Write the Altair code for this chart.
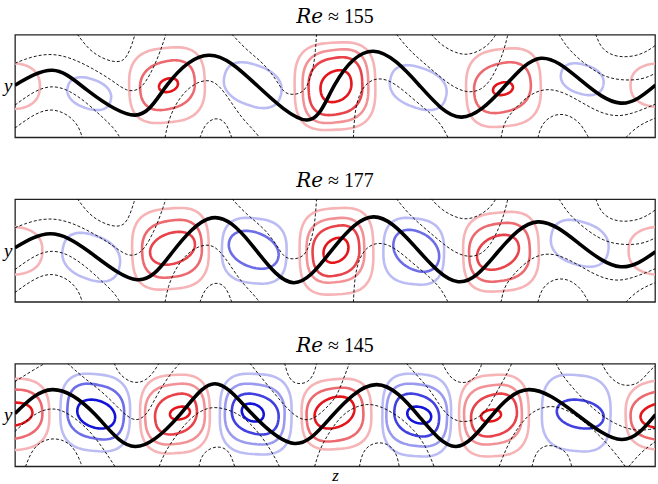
import altair as alt
import numpy as np
import pandas as pd

Z_MAX = 64.2
Y_HALF = 5.15

TITLES = ["𝑅𝑒 ≈ 155", "𝑅𝑒 ≈ 177", "𝑅𝑒 ≈ 145"]

RED = ["#f6b4b7", "#f29296", "#ec6a6f", "#e8434a", "#e4161c"]
BLUE = ["#bcbcf4", "#9a9aef", "#6d6de8", "#4141e0", "#1414d8"]

# zero streamline (thick black) : (z, y)
BLACK_1 = [(0, 0.08), (3.75, 1.58), (7.25, -0.42), (12.05, -2.92), (15.25, 0.08), (19.45, 3.08),
           (24.25, 0.08), (29.25, -3.42), (32.05, 0.08), (35.95, 3.48), (40.55, 0.08), (44.75, -3.12),
           (48.95, -0.22), (52.75, 2.78), (56.75, 0.58), (60.75, -1.72), (64.25, 0.08)]
BLACK_2 = [(0, 0.27), (3.55, 1.67), (7.45, -0.13), (12.25, -2.93), (15.75, -0.23), (19.75, 3.27),
           (23.75, 0.57), (27.95, -3.23), (32.05, 0.37), (35.95, 3.37), (39.95, 0.57), (44.45, -3.13),
           (48.45, -0.13), (52.45, 2.87), (56.75, 0.57), (60.75, -1.63), (64.25, -0.13)]
BLACK_3 = [(0, 0.14), (3.75, 2.54), (8.05, 0.04), (12.05, -3.16), (16.55, 0.04), (20.05, 3.14),
           (23.75, 0.14), (28.05, -2.86), (31.75, -0.16), (36.25, 3.04), (40.55, -0.16), (44.25, -3.16),
           (47.75, -0.16), (51.55, 2.54), (56.25, 0.14), (60.85, -2.46), (64.25, 0.04)]

# vortex contours: (sign, shade, z centre, y centre, half-width, half-height, squareness, tilt)
RINGS_1 = [
    (1, 0, -0.5, -0.02, 3.0, 2.3, 2.4, 0.0),
    (-1, 0, 7.45, -0.77, 2.2, 1.65, 2.3, -0.5),
    (1, 0, 15.25, 0.08, 3.8, 3.8, 2.9, 0.1),
    (1, 2, 15.3, 0.08, 2.75, 2.5, 2.4, 0.25),
    (1, 4, 15.4, 0.08, 0.95, 0.7, 2.1, 0.4),
    (-1, 0, 23.85, 0.08, 2.9, 2.3, 2.4, -0.5),
    (1, 0, 32.1, -0.02, 4.05, 4.4, 3.1, 0.05),
    (1, 1, 32.15, -0.02, 3.3, 3.7, 2.9, 0.1),
    (1, 3, 32.15, -0.02, 2.7, 2.9, 2.6, 0.15),
    (1, 4, 32.2, -0.02, 1.55, 1.6, 2.2, 0.3),
    (-1, 0, 40.45, -0.17, 2.85, 2.25, 2.4, -0.5),
    (1, 0, 49.0, -0.17, 3.75, 3.95, 2.9, 0.1),
    (1, 2, 48.9, -0.17, 2.85, 2.55, 2.4, 0.25),
    (1, 4, 48.95, -0.27, 1.0, 0.65, 2.1, 0.4),
    (-1, 0, 56.9, 0.68, 2.15, 1.6, 2.3, -0.45),
    (1, 0, 64.95, 0.08, 3.2, 2.2, 2.4, 0.0),
]
RINGS_2 = [
    (1, 0, -0.55, -0.03, 3.3, 2.4, 2.4, 0.0),
    (-1, 0, 7.65, -0.68, 2.9, 2.45, 2.4, -0.45),
    (1, 0, 15.6, 0.17, 3.85, 4.1, 3.0, 0.08),
    (1, 2, 15.75, 0.17, 3.0, 2.9, 2.6, 0.15),
    (1, 3, 15.8, 0.22, 2.25, 1.65, 2.1, 0.45),
    (-1, 0, 24.0, -0.03, 3.25, 3.3, 2.8, -0.1),
    (-1, 2, 23.95, 0.07, 2.5, 1.9, 2.1, -0.5),
    (1, 0, 32.25, -0.08, 3.7, 4.35, 3.1, 0.05),
    (1, 1, 32.15, 0.02, 2.9, 3.25, 2.8, 0.1),
    (1, 3, 32.2, -0.03, 2.35, 2.55, 2.5, 0.2),
    (1, 4, 32.2, 0.02, 1.25, 1.25, 2.1, 0.4),
    (-1, 0, 40.0, -0.08, 3.05, 3.35, 2.8, -0.1),
    (-1, 2, 40.25, -0.03, 2.3, 2.1, 2.1, -0.5),
    (1, 0, 48.75, -0.13, 3.8, 4.0, 3.0, 0.08),
    (1, 2, 48.6, -0.18, 3.05, 2.95, 2.6, 0.15),
    (1, 3, 48.45, -0.18, 2.1, 1.75, 2.1, 0.45),
    (-1, 0, 56.65, 0.72, 2.9, 2.35, 2.4, -0.4),
    (1, 0, 64.95, -0.03, 3.4, 2.4, 2.4, 0.0),
]
RINGS_3 = [
    (1, 0, -0.45, 0.04, 3.9, 3.6, 2.8, 0.05),
    (1, 2, -0.45, 0.04, 3.2, 2.5, 2.4, 0.15),
    (1, 4, -0.45, 0.04, 2.2, 1.2, 2.1, 0.3),
    (-1, 0, 8.05, 0.24, 3.5, 3.9, 2.9, -0.08),
    (-1, 2, 8.1, 0.34, 2.85, 2.8, 2.6, -0.2),
    (-1, 4, 8.15, 0.09, 1.9, 1.45, 2.1, -0.4),
    (1, 0, 16.05, 0.09, 3.5, 3.95, 2.9, 0.05),
    (1, 1, 16.05, 0.09, 3.0, 3.05, 2.7, 0.12),
    (1, 3, 16.15, 0.09, 2.1, 2.05, 2.3, 0.3),
    (1, 4, 16.55, 0.19, 1.0, 0.65, 2.1, 0.35),
    (-1, 0, 24.15, 0.09, 3.6, 4.05, 3.0, -0.05),
    (-1, 1, 24.05, 0.09, 3.0, 3.05, 2.7, -0.12),
    (-1, 3, 24.1, 0.09, 2.35, 2.05, 2.3, -0.3),
    (-1, 4, 23.85, 0.24, 1.1, 0.9, 2.1, -0.35),
    (1, 0, 32.25, 0.09, 3.5, 3.55, 2.9, 0.08),
    (1, 2, 32.1, 0.04, 2.85, 2.7, 2.6, 0.15),
    (1, 4, 32.05, 0.24, 2.0, 1.6, 2.1, 0.4),
    (-1, 0, 40.3, -0.01, 3.45, 4.15, 3.0, -0.05),
    (-1, 1, 40.3, -0.01, 3.05, 3.15, 2.7, -0.12),
    (-1, 3, 40.3, -0.01, 2.25, 2.15, 2.3, -0.3),
    (-1, 4, 40.55, -0.01, 1.2, 0.85, 2.1, -0.35),
    (1, 0, 48.05, -0.06, 3.5, 4.1, 2.9, 0.05),
    (1, 1, 47.95, 0.04, 2.9, 3.0, 2.7, 0.12),
    (1, 3, 48.05, -0.01, 2.3, 2.15, 2.3, 0.3),
    (1, 4, 47.75, -0.06, 1.0, 0.6, 2.1, 0.35),
    (-1, 0, 56.3, 0.19, 3.45, 3.85, 2.9, -0.08),
    (-1, 3, 56.7, 0.09, 2.35, 1.45, 2.1, -0.35),
    (1, 0, 65.55, 0.04, 4.3, 3.5, 2.8, 0.05),
    (1, 2, 65.55, 0.04, 3.8, 2.5, 2.4, 0.15),
    (1, 4, 65.55, 0.04, 2.8, 1.35, 2.1, 0.3),
]

# dashed streamlines: lists of (z, y)
DASHED_12 = [
    [(0, 2.28), (1.75, 2.98), (3.75, 3.28), (5.75, 2.78), (7.75, 1.78), (9.75, 0.58), (11.25, -0.62),
     (12.55, -0.42), (13.55, 1.08), (14.45, 3.08), (15.15, 5.2)],
    [(6.25, 5.2), (7.45, 3.58), (8.75, 2.78), (9.95, 2.38), (10.95, 2.48), (11.55, 3.58), (12.05, 5.2)],
    [(0, -1.92), (2.05, -0.42), (3.75, 0.08), (5.45, -0.42), (7.25, -1.72), (8.75, -3.12), (9.95, -4.22),
     (10.55, -5.2)],
    [(0, -4.22), (2.05, -2.72), (3.75, -2.22), (5.45, -2.92), (6.45, -4.12), (6.75, -5.2)],
    [(15.05, -5.2), (15.35, -3.62), (16.05, -1.92), (17.05, -0.52), (18.25, 0.38), (19.55, 0.68),
     (20.55, -0.02), (21.55, -1.42), (22.75, -3.22), (23.95, -4.42), (24.55, -5.2)],
    [(18.55, -5.2), (19.05, -3.82), (20.05, -3.12), (21.15, -3.52), (21.75, -5.2)],
    [(21.75, 5.2), (23.25, 3.58), (24.95, 2.28), (26.25, 0.58), (26.95, -0.72), (27.95, -0.92),
     (28.95, -0.62), (29.45, 0.28), (29.95, 1.88), (30.15, 3.58), (30.25, 5.2)],
    [(41.75, 5.2), (42.75, 4.08), (44.25, 3.28), (45.45, 3.08), (46.75, 3.58), (47.75, 4.38), (48.25, 5.2)],
    [(38.25, 5.2), (39.55, 3.58), (41.05, 2.28), (42.45, 1.08), (43.95, -0.12), (45.45, -0.72),
     (46.75, -0.42), (47.75, 0.58), (48.55, 2.28), (49.05, 3.58), (49.45, 5.2)],
    [(33.95, -5.2), (34.05, -2.92), (34.45, -0.92), (35.35, 0.48), (36.75, 0.88), (38.25, 0.18),
     (39.95, -1.32), (41.55, -2.62), (42.75, -3.82), (43.45, -5.2)],
    [(48.75, -5.2), (49.05, -3.72), (49.75, -2.72), (50.75, -1.62), (52.05, -0.62), (53.55, -0.22),
     (55.25, -0.72), (56.95, -1.72), (58.75, -2.72), (60.55, -3.12), (62.35, -2.62), (64.25, -1.82)],
    [(52.45, -5.2), (52.85, -3.72), (54.05, -2.82), (55.45, -2.82), (56.75, -3.72), (57.55, -5.2)],
    [(61.25, -5.2), (62.55, -3.92), (64.25, -3.22)],
    [(54.55, 5.2), (55.55, 3.58), (57.55, 1.88), (59.05, 0.98), (60.55, 0.58), (62.85, 0.58), (64.25, 1.28)],
    [(58.25, 5.2), (58.85, 3.58), (60.55, 2.78), (62.85, 3.08), (64.25, 4.08)],
]
DASHED_3 = [
    [(0, 3.34), (1.55, 4.34), (3.05, 5.2)],
    [(5.25, 5.2), (6.75, 3.84), (8.75, 2.34), (10.25, 0.84), (11.25, -0.16), (12.25, -0.66), (13.25, 0.04),
     (14.05, 1.64), (15.05, 3.34), (15.95, 4.54), (16.55, 5.2)],
    [(9.95, 5.2), (10.45, 4.04), (11.75, 3.14), (13.05, 3.34), (13.95, 4.34), (14.45, 5.2)],
    [(0, -1.66), (1.55, -0.16), (3.05, 0.64), (4.55, 0.64), (6.25, -0.46), (7.75, -1.86), (9.05, -3.66),
     (10.05, -5.2)],
    [(1.05, -5.2), (1.75, -3.36), (3.05, -2.36), (4.75, -2.36), (6.05, -3.36), (6.75, -5.2)],
    [(14.45, -5.2), (15.05, -3.66), (16.45, -1.66), (17.75, -0.16), (19.05, 0.64), (20.25, 0.84),
     (22.05, 0.34), (23.45, -0.66), (24.75, -2.16), (25.75, -3.66), (26.55, -5.2)],
    [(18.45, -5.2), (18.75, -3.86), (20.05, -3.06), (21.45, -3.36), (22.05, -5.2)],
    [(23.55, 5.2), (25.05, 3.34), (26.45, 1.64), (27.75, 0.14), (29.05, -0.66), (30.25, -0.26),
     (31.55, 1.04), (32.25, 1.84), (32.85, 3.34), (33.55, 5.2)],
    [(27.05, 5.2), (27.45, 3.64), (28.25, 3.04), (29.45, 3.24), (30.05, 4.24), (30.25, 5.2)],
    [(30.05, -5.2), (30.55, -3.46), (31.55, -1.66), (32.75, -0.06), (33.95, 0.74), (35.25, 1.14),
     (36.55, 0.94), (38.25, 0.04), (39.95, -1.36), (41.25, -3.16), (42.05, -5.2)],
    [(34.55, -5.2), (34.85, -3.66), (35.85, -2.76), (37.25, -2.76), (38.25, -3.66), (38.55, -5.2)],
    [(39.25, 5.2), (40.25, 4.04), (41.55, 2.64), (42.55, 1.04), (43.55, -0.26), (44.75, -0.76),
     (46.05, -0.56), (47.25, 0.34), (47.95, 1.64), (48.75, 3.04), (49.35, 4.14), (49.85, 5.2)],
    [(42.85, 5.2), (43.55, 3.84), (44.55, 3.14), (45.85, 3.34), (46.55, 4.34), (46.85, 5.2)],
    [(48.55, -5.2), (49.55, -2.66), (50.85, -0.66), (52.25, 0.64), (54.25, 1.04), (56.25, 0.04),
     (58.25, -1.66), (59.85, -3.36), (61.25, -5.2)],
    [(51.85, -5.2), (52.25, -3.66), (53.25, -2.96), (54.55, -3.16), (55.55, -3.96), (55.85, -5.2)],
    [(54.25, 5.2), (54.85, 4.04), (56.25, 2.34), (58.25, 0.34), (60.25, -0.96), (62.25, -1.66), (64.25, -1.36)],
    [(58.85, 5.2), (59.55, 3.84), (60.85, 2.84), (62.55, 3.04), (63.55, 4.34), (64.25, 4.94)],
    [(61.55, -5.2), (62.85, -3.66), (64.25, -2.66)],
]

PANELS = [(BLACK_1, RINGS_1, DASHED_12), (BLACK_2, RINGS_2, DASHED_12), (BLACK_3, RINGS_3, DASHED_3)]

SERIF = "Liberation Serif, DejaVu Serif, serif"


def ring_outline(cz, cy, a, b, n, k, m=96):
    t = np.linspace(0, 2 * np.pi, m)
    c, s = np.cos(t), np.sin(t)
    ux = np.sign(c) * np.abs(c) ** (2.0 / n)
    uy = np.sign(s) * np.abs(s) ** (2.0 / n)
    vx = ux - 0.35 * k * uy
    vy = uy + k * ux
    vx = vx / np.abs(vx).max()
    vy = vy / np.abs(vy).max()
    return cz + a * vx, cy + b * vy


def rings_frame(rings):
    rows = []
    for rid, (sign, shade, cz, cy, a, b, n, k) in enumerate(rings):
        zs, ys = ring_outline(cz, cy, a, b, n, k)
        col = RED[shade] if sign > 0 else BLUE[shade]
        for i, (zz, yy) in enumerate(zip(zs, ys)):
            rows.append({"z": zz, "y": yy, "ring": rid, "i": i, "col": col})
    return pd.DataFrame(rows)


def lines_frame(lines):
    rows = []
    for lid, pts in enumerate(lines):
        for i, (zz, yy) in enumerate(pts):
            rows.append({"z": zz, "y": yy, "line": lid, "i": i})
    return pd.DataFrame(rows)


def panel(k):
    black, rings, dashed = PANELS[k]
    last = k == 2
    xaxis = alt.Axis(title="z" if last else None, labels=False, ticks=False, domain=False, grid=False,
                     titleFont=SERIF, titleFontStyle="italic", titleFontSize=17, titleFontWeight="normal",
                     titlePadding=1, titleColor="black")
    yaxis = alt.Axis(title="y", labels=False, ticks=False, domain=False, grid=False,
                     titleFont=SERIF, titleFontStyle="italic", titleFontSize=19, titleFontWeight="normal",
                     titleAngle=0, titleAlign="right", titleBaseline="middle", titlePadding=3,
                     titleColor="black")
    X = alt.X("z:Q", scale=alt.Scale(domain=[0, Z_MAX], nice=False, zero=False), axis=xaxis)
    Y = alt.Y("y:Q", scale=alt.Scale(domain=[-Y_HALF, Y_HALF], nice=False, zero=False), axis=yaxis)

    ring_layer = alt.Chart(rings_frame(rings)).mark_line(strokeWidth=2.6, clip=True).encode(
        x=X, y=Y, detail="ring:N", order="i:Q", color=alt.Color("col:N", scale=None))
    dash_layer = alt.Chart(lines_frame(dashed)).mark_line(
        strokeWidth=0.9, strokeDash=[3, 2], color="black", interpolate="basis", clip=True).encode(
        x=X, y=Y, detail="line:N", order="i:Q")
    black_layer = alt.Chart(pd.DataFrame(black, columns=["z", "y"])).mark_line(
        strokeWidth=3.6, color="black", interpolate="natural", clip=True).encode(x=X, y=Y)
    return alt.layer(ring_layer, dash_layer, black_layer).properties(
        width=642, height=103,
        title=alt.TitleParams(TITLES[k], font=SERIF, fontSize=20, fontWeight="normal", color="black",
                              anchor="middle", offset=8))


chart = alt.vconcat(panel(0), panel(1), panel(2), spacing=32).properties(
    padding={"left": 2, "top": 5, "right": 2, "bottom": 0}
).configure_view(stroke="#222222", strokeWidth=1.3)

chart.save("out.html", embed_options={"renderer": "svg", "actions": False})
